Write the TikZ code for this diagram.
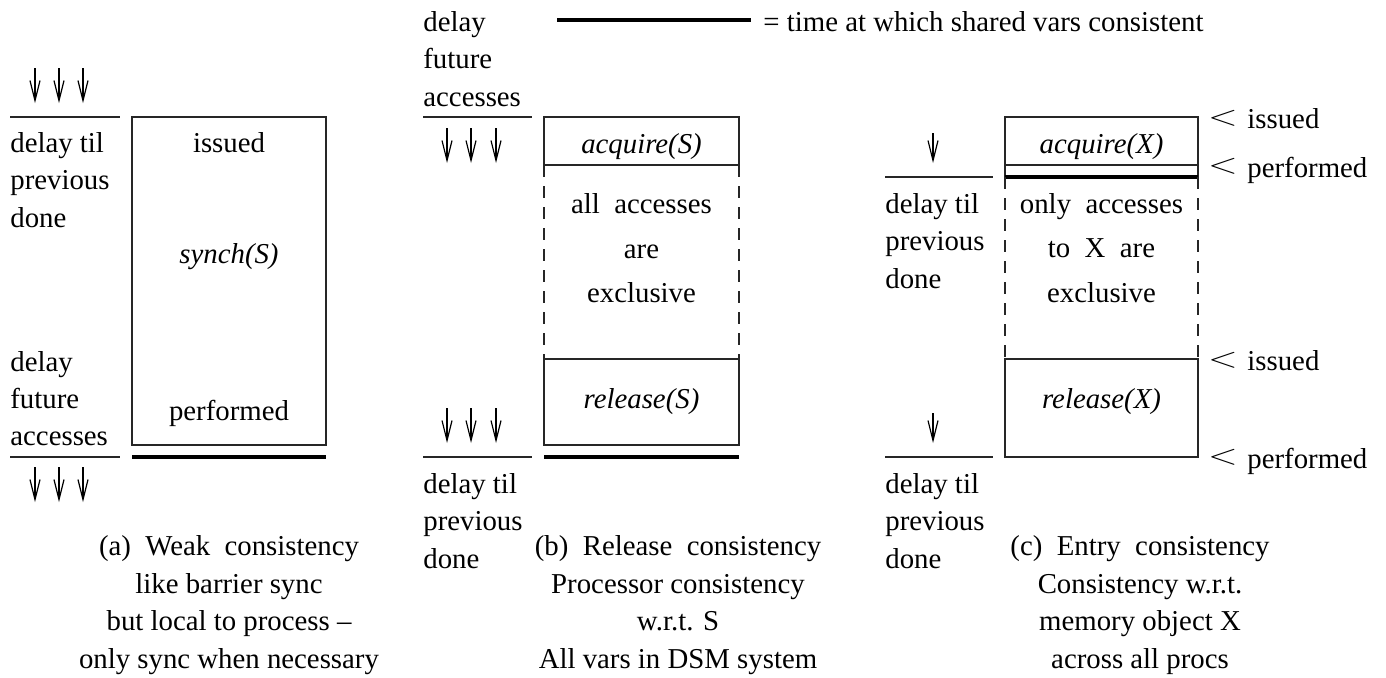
\documentclass[tikz,border=0pt]{standalone}
\usepackage{fontspec}
\setmainfont{Liberation Serif}
\usetikzlibrary{arrows.meta}

\begin{document}
\begin{tikzpicture}[x=0.5pt,y=-0.5pt,
  txt/.style={inner sep=0pt, font=\fontsize{14.4}{18}\selectfont},
  lbl/.style={txt, anchor=base west},
  ctr/.style={txt, anchor=base},
  ltmark/.style={inner sep=0pt, font=\fontsize{14}{18}\selectfont},
  rule/.style={line width=0.75pt, draw=black!85},
  heavyrule/.style={line width=1.8pt},
  boxline/.style={line width=0.75pt, draw=black!85},
  dashside/.style={line width=0.7pt, draw=black!85, dash pattern=on 6pt off 4.5pt},
  downarrow/.style={line width=0.6pt, -{Straight Barb[length=10pt,width=5pt]}},
]
\useasboundingbox (0,0) rectangle (1386,677);
\newcommand{\widelt}{\scalebox{1.35}[1]{$<$}}

% ---------------- legend ----------------
\coordinate (legA) at (557,20);
\coordinate (legB) at (751,20);
\draw[heavyrule] (legA) -- (legB);
\node[lbl] (legtxt) at (763,31) {= time at which shared vars consistent};

% ---------------- (a) weak consistency ----------------
\foreach \x in {35,59,83} \draw[downarrow] (\x,68) -- (\x,103);
\foreach \x in {35,59,83} \draw[downarrow] (\x,467) -- (\x,502);
\draw[rule] (10,117) -- (120,117);
\draw[rule] (10,457) -- (120,457);
\draw[boxline] (132,117) rectangle (326,445);
\draw[heavyrule] (132,457) -- (326,457);

\node[lbl] (a-l1) at (10,152) {delay til};
\node[lbl] (a-l2) at (10,189.5) {previous};
\node[lbl] (a-l3) at (10,227) {done};
\node[lbl] (a-l4) at (10,371) {delay};
\node[lbl] (a-l5) at (10,408) {future};
\node[lbl] (a-l6) at (10,445) {accesses};

\node[ctr] (a-iss) at (229,152) {issued};
\node[ctr] (a-syn) at (229,263) {\textit{synch(S)}};
\node[ctr] (a-per) at (229,420) {performed};

\node[ctr] (a-c1) at (229,555) {(a)\ \ Weak\ \ consistency};
\node[ctr] (a-c2) at (229,593) {like barrier sync};
\node[ctr] (a-c3) at (229,630) {but local to process --};
\node[ctr] (a-c4) at (229,668) {only sync when necessary};

% ---------------- (b) release consistency ----------------
\foreach \x in {447,471,496} \draw[downarrow] (\x,128) -- (\x,163);
\foreach \x in {447,471,496} \draw[downarrow] (\x,408) -- (\x,443);
\draw[rule] (423,117) -- (532,117);
\draw[rule] (423,457) -- (532,457);
\draw[boxline] (544,117) rectangle (739,165);
\draw[dashside] (544,165) -- (544,359);
\draw[dashside] (739,165) -- (739,359);
\draw[boxline] (544,359) rectangle (739,445);
\draw[heavyrule] (544,457) -- (739,457);

\node[lbl] (b-l1) at (423,31) {delay};
\node[lbl] (b-l2) at (423,68.5) {future};
\node[lbl] (b-l3) at (423,106) {accesses};
\node[lbl] (b-l4) at (423,493) {delay til};
\node[lbl] (b-l5) at (423,530.5) {previous};
\node[lbl] (b-l6) at (423,568) {done};

\node[ctr] (b-acq) at (641.5,153) {\textit{acquire(S)}};
\node[ctr] (b-m1) at (641.5,213) {all\ \ accesses};
\node[ctr] (b-m2) at (641.5,258) {are};
\node[ctr] (b-m3) at (641.5,302) {exclusive};
\node[ctr] (b-rel) at (641.5,408) {\textit{release(S)}};

\node[ctr] (b-c1) at (678,555) {(b)\ \ Release\ \ consistency};
\node[ctr] (b-c2) at (678,593) {Processor consistency};
\node[ctr] (b-c3) at (678,630) {w.r.t. S};
\node[ctr] (b-c4) at (678,668) {All vars in DSM system};

% ---------------- (c) entry consistency ----------------
\draw[downarrow] (933,133) -- (933,163);
\draw[downarrow] (933,413) -- (933,443);
\draw[rule] (885,177) -- (993,177);
\draw[rule] (885,457) -- (993,457);
\draw[boxline] (1005,177) -- (1005,117) -- (1198,117) -- (1198,177);
\draw[boxline] (1005,165) -- (1198,165);
\draw[heavyrule] (1005,177) -- (1198,177);
\draw[dashside] (1005,177) -- (1005,359);
\draw[dashside] (1198,177) -- (1198,359);
\draw[boxline] (1005,359) rectangle (1198,457);

\node[lbl] (c-l1) at (885,213) {delay til};
\node[lbl] (c-l2) at (885,250.5) {previous};
\node[lbl] (c-l3) at (885,288) {done};
\node[lbl] (c-l4) at (885,493) {delay til};
\node[lbl] (c-l5) at (885,530.5) {previous};
\node[lbl] (c-l6) at (885,568) {done};

\node[ctr] (c-acq) at (1101.5,153) {\textit{acquire(X)}};
\node[ctr] (c-m1) at (1101.5,213) {only\ \ accesses};
\node[ctr] (c-m2) at (1101.5,257) {to\ \ X\ \ are};
\node[ctr] (c-m3) at (1101.5,302) {exclusive};
\node[ctr] (c-rel) at (1101.5,408) {\textit{release(X)}};

% event markers to the right of the entry-consistency boxes
\node[ltmark] (c-lt1) at (1223,118) {\widelt};
\node[ltmark] (c-lt2) at (1223,166) {\widelt};
\node[ltmark] (c-lt3) at (1223,360) {\widelt};
\node[ltmark] (c-lt4) at (1223,457) {\widelt};
\node[lbl] (c-r1) at (1247,128) {issued};
\node[lbl] (c-r2) at (1247,177) {performed};
\node[lbl] (c-r3) at (1247,370) {issued};
\node[lbl] (c-r4) at (1247,468) {performed};

\node[ctr] (c-c1) at (1140,555) {(c)\ \ Entry\ \ consistency};
\node[ctr] (c-c2) at (1140,593) {Consistency w.r.t.};
\node[ctr] (c-c3) at (1140,630) {memory object X};
\node[ctr] (c-c4) at (1140,668) {across all procs};
\end{tikzpicture}
\end{document}
